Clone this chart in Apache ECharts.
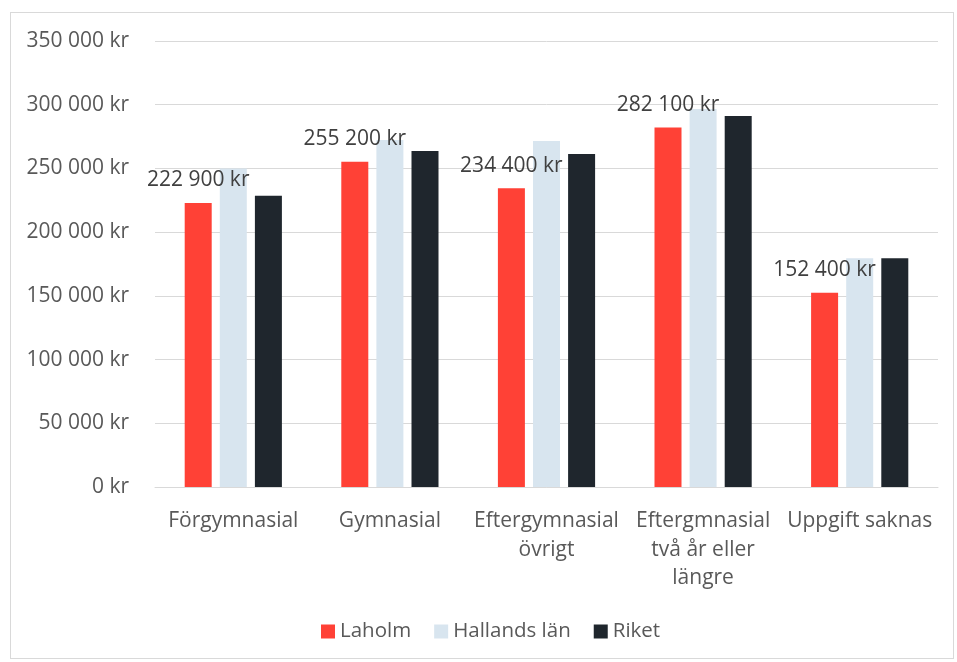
<!DOCTYPE html>
<html><head><meta charset="utf-8">
<script src="https://cdn.jsdelivr.net/npm/echarts@6/dist/echarts.min.js"></script>
<style>
html,body{margin:0;padding:0;background:#fff;}
#frame{position:absolute;left:10px;top:12px;width:944px;height:647px;border:1px solid #d9d9d9;box-sizing:border-box;}
#chart{position:absolute;left:0;top:0;width:957px;height:662px;}
</style>
</head><body>
<div id="frame"></div>
<div id="chart"></div>
<script>
const categories = ['Förgymnasial', 'Gymnasial', 'Eftergymnasial\növrigt', 'Eftergmnasial\ntvå år eller\nlängre', 'Uppgift saknas'];
const laholm = [222900, 255200, 234400, 282100, 152400];
const hallands = [250000, 272300, 271500, 296600, 179500];
const riket = [228600, 263700, 261300, 291100, 179500];
const seriesNames = ['Laholm', 'Hallands län', 'Riket'];
const yTicks = {min: 0, max: 350000, interval: 50000};

function fmt(v){ return String(v).replace(/\B(?=(\d{3})+(?!\d))/g, ' ') + ' kr'; }
const FONT = 'Open Sans';
const FS = 21;
const chart = echarts.init(document.getElementById('chart'), null, {renderer:'canvas'});
chart.setOption({
  animation:false,
  textStyle:{fontFamily:FONT},
  grid:{left:155, right:19, top:41, bottom:175, containLabel:false},
  legend:{
    bottom:15, left:316, itemWidth:14, itemHeight:14, itemGap:23, icon:'rect',
    textStyle:{fontSize:20.5, color:'#595959', fontFamily:FONT},
    data:seriesNames
  },
  xAxis:{
    type:'category', data:categories,
    axisLine:{lineStyle:{color:'#d9d9d9'}}, axisTick:{show:false},
    axisLabel:{fontSize:FS, color:'#595959', margin:20, lineHeight:28.5, interval:0, fontFamily:FONT}
  },
  yAxis:{
    type:'value', min:yTicks.min, max:yTicks.max, interval:yTicks.interval,
    axisLine:{show:false}, axisTick:{show:false},
    splitLine:{lineStyle:{color:'#d9d9d9', width:1}},
    axisLabel:{fontSize:FS, color:'#595959', margin:26, formatter:fmt, fontFamily:FONT}
  },
  series:[
    {name:seriesNames[0], type:'bar', data:laholm, barWidth:27, barGap:'30%', barCategoryGap:'38%',
     itemStyle:{color:'#ff4136'},
     label:{show:true, position:'top', distance:12, formatter:p=>fmt(p.value), fontSize:FS, color:'#404040', fontFamily:FONT}},
    {name:seriesNames[1], type:'bar', data:hallands, barWidth:27, barGap:'30%', itemStyle:{color:'#d8e5ef'}},
    {name:seriesNames[2], type:'bar', data:riket, barWidth:27, barGap:'30%', itemStyle:{color:'#1f262d'}}
  ]
});
</script>
</body></html>
